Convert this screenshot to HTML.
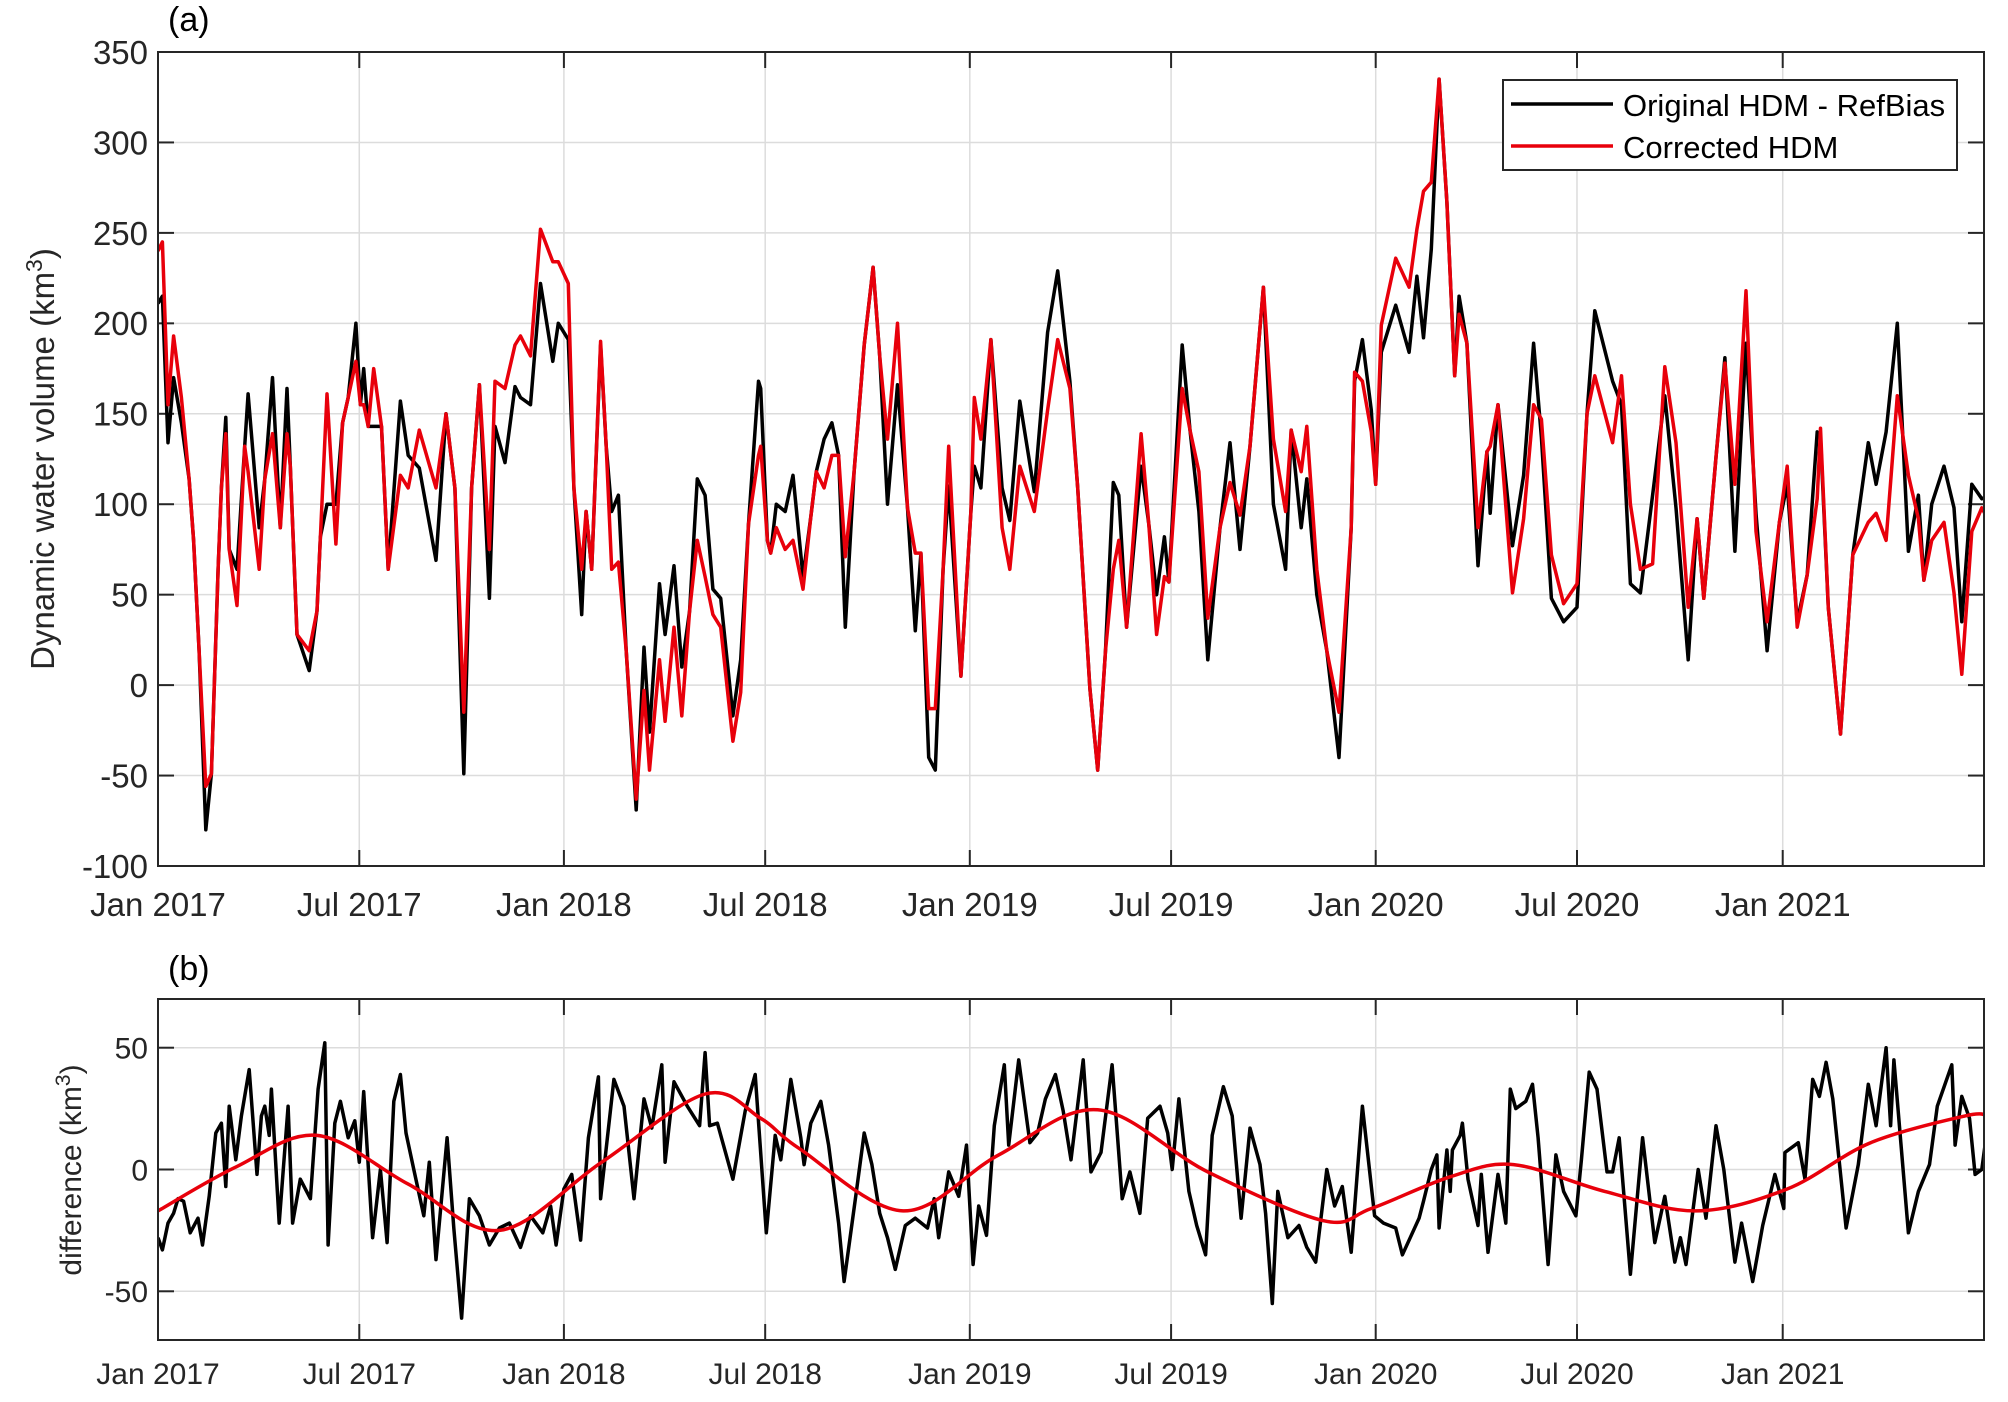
<!DOCTYPE html>
<html><head><meta charset="utf-8">
<style>
body{margin:0;background:#fff;}
svg{display:block;font-family:"Liberation Sans",Arial,sans-serif;}
</style></head>
<body>
<svg id="fig" width="2008" height="1402" viewBox="0 0 2008 1402">
<defs>
<clipPath id="clipA"><rect x="158" y="52" width="1826" height="814"/></clipPath>
<clipPath id="clipB"><rect x="158" y="999" width="1826" height="341"/></clipPath>
</defs>
<g id="panelA"></g>
<g id="panelB"></g>
</svg>
<script>
// ---- Panel (a) data ----
const daysA = [0,4,9,14,21,28,32,37,43,48,54,57,61,64,71,78,81,91,96,103,110,116,119,125,136,143,146,152,160,166,171,178,182,185,189,194,201,207,218,225,235,250,259,267,275,282,289,298,303,312,321,326,335,344,355,360,369,374,381,385,390,398,403,408,414,421,430,437,442,451,456,464,471,478,485,492,499,506,517,524,531,540,
542,548,551,556,564,571,580,587,592,599,606,612,618,626,635,643,649,656,665,674,681,686,693,699,706,711,722,731,734,740,749,759,766,775,788,800,809,820,827,838,845,852,859,864,871,884,891,898,905,909,921,928,936,944,955,964,973,982,994,1003,1014,1019,1028,1033,1042,1051,1062,1073,1076,1083,
1091,1095,1100,1113,1125,1132,1138,1145,1152,1159,1166,1170,1177,1187,1195,1198,1205,1218,1228,1237,1244,1253,1264,1276,1285,1292,1308,1316,1324,1333,1344,1355,1365,1376,1384,1390,1401,1409,1418,1428,1437,1447,1458,1465,1474,1483,1492,1495,1502,1513,1524,1538,1545,1554,1564,1574,1583,1588,1595,1606,1615,1622,1631,1640,1647];
const originalA = [211,215,134,170,145,114,80,19,-80,-49,64,109,148,75,64,132,161,87,114,170,87,164,121,28,8,41,82,100,100,145,159,200,155,175,143,143,143,64,157,127,120,69,150,109,-49,109,166,48,143,123,165,159,155,222,179,200,191,109,39,96,64,188,132,96,105,19,-69,21,-26,56,28,66,10,41,114,105,53,48,-17,14,89,168,
164,80,73,100,96,116,60,93,118,136,145,127,32,118,188,231,182,100,166,98,30,73,-40,-47,64,110,5,96,121,109,191,109,91,157,107,195,229,168,109,-2,-47,19,112,105,32,121,89,50,82,57,188,141,96,14,87,134,75,132,220,100,64,141,87,114,50,19,-40,87,168,191,
152,111,184,210,184,226,192,241,335,267,171,215,189,66,129,95,155,77,116,189,137,48,35,43,150,207,168,155,56,51,105,160,98,14,92,48,126,181,74,189,95,19,90,111,35,61,140,137,43,-27,72,134,111,140,200,74,105,58,100,121,98,35,111,103,105];
const correctedA = [240,245,155,193,159,114,80,19,-56,-49,64,109,139,75,44,132,118,64,114,139,87,139,121,28,19,41,82,161,78,145,159,179,155,155,143,175,143,64,116,109,141,109,150,109,-15,109,166,75,168,164,188,193,182,252,234,234,222,109,64,96,64,190,132,64,68,19,-63,-3,-47,14,-20,32,-17,41,80,60,39,32,-31,-4,89,127,
132,80,73,87,75,80,53,93,118,109,127,127,71,118,188,231,182,136,200,98,73,73,-13,-13,64,132,5,96,159,136,191,87,64,121,96,152,191,164,109,-2,-47,19,64,80,32,139,89,28,60,57,164,141,118,37,87,112,94,132,220,136,96,141,118,143,64,19,-15,87,173,168,
140,111,199,236,220,252,273,278,335,267,171,205,189,87,129,132,155,51,92,155,147,72,45,56,150,171,134,171,100,64,67,176,134,43,92,48,126,178,111,218,85,35,90,121,32,61,103,142,43,-27,72,90,95,80,160,116,92,58,80,90,51,6,85,98,90];
const yTicksA = [-100,-50,0,50,100,150,200,250,300,350];

// ---- Panel (b) data ----
const daysB = [0,4,9,14,18,23,29,36,40,46,52,57,61,64,70,75,82,89,93,96,100,102,109,117,121,128,137,144,150,153,159,164,171,177,181,185,193,200,206,212,218,223,230,239,244,250,260,266,273,280,289,298,307,316,326,335,346,353,358,365,372,380,387,396,398,410,419,428,437,444,453,456,464,476,487,492,496,503,517,528,537,
547,555,560,569,578,581,587,596,603,612,617,628,635,642,649,656,663,672,681,692,698,702,711,720,727,733,738,745,752,761,765,774,784,791,798,807,814,821,832,839,848,858,867,874,883,890,901,908,912,918,927,934,942,948,958,966,974,982,991,996,1002,1007,1016,1026,1033,1041,1051,1058,1065,1073,1083,1094,
1102,1113,1119,1127,1134,1138,1145,1150,1152,1159,1162,1164,1171,1173,1178,1187,1190,1196,1205,1212,1216,1221,1230,1236,1241,1250,1257,1264,1275,1280,1287,1294,1303,1308,1314,1324,1335,1346,1355,1364,1369,1374,1385,1392,1401,1408,1418,1424,1434,1443,1454,1462,1463,1475,1481,1488,1494,1500,1506,1518,1529,1538,1545,1554,1558,1561,1574,1583,1593,1600,1613,1616,1622,1629,1634,1640,1645];
const diffB = [-28,-33,-22,-18,-12,-13,-26,-20,-31,-11,15,19,-7,26,4,22,41,-2,22,26,14,33,-22,26,-22,-4,-12,33,52,-31,19,28,13,20,3,32,-28,0,-30,28,39,15,0,-19,3,-37,13,-24,-61,-12,-19,-31,-24,-22,-32,-19,-26,-15,-31,-8,-2,-29,13,38,-12,37,26,-12,29,17,43,3,36,26,18,48,18,19,-4,24,39,
-26,14,4,37,13,2,19,28,10,-22,-46,-9,15,2,-18,-28,-41,-23,-20,-24,-12,-28,-1,-11,10,-39,-15,-27,18,43,10,45,11,15,29,39,24,4,45,-1,7,43,-12,-1,-18,21,26,15,0,29,-9,-23,-35,14,34,22,-20,17,2,-18,-55,-9,-28,-23,-32,-38,0,-15,-7,-34,26,-19,
-22,-24,-35,-27,-20,-13,0,6,-24,8,-9,8,14,19,-4,-23,-2,-34,-2,-22,33,25,28,35,13,-39,6,-9,-19,4,40,33,-1,-1,13,-43,13,-30,-11,-38,-28,-39,0,-20,18,0,-38,-22,-46,-23,-2,-16,7,11,-4,37,30,44,29,-24,2,35,18,50,18,45,-26,-9,2,26,43,10,30,21,-2,0,17];
const fitDays = [0,70,143,225,307,399,492,542,577,670,756,845,944,1048,1091,1162,1219,1301,1383,1465,1540,1625,1646];
const fitB = [-17,1,14,-6,-25,3,31,21,8.5,-17,6,24.5,-1,-21,-16,-3,2,-9,-17,-8,11,22,22];
const yTicksB = [-50,0,50];

const xTickDays = [0,181,365,546,730,911,1095,1276,1461];
const xTickLabels = ["Jan 2017","Jul 2017","Jan 2018","Jul 2018","Jan 2019","Jul 2019","Jan 2020","Jul 2020","Jan 2021"];

const NS = "http://www.w3.org/2000/svg";
const L = 158, R = 1984, DMAX = 1642;
function xS(d){ return L + d/DMAX*(R-L); }
function mk(tag, attrs, parent){
  const e = document.createElementNS(NS, tag);
  for (const k in attrs) e.setAttribute(k, attrs[k]);
  parent.appendChild(e); return e;
}
function pathFrom(days, vals, yS){
  let s = "";
  for (let i=0;i<days.length;i++){ s += (i?"L":"M") + xS(days[i]).toFixed(1) + " " + yS(vals[i]).toFixed(1); }
  return s;
}
function smoothPath(days, vals, yS){
  const P = days.map((d,i)=>[xS(d), yS(vals[i])]);
  let s = "M"+P[0][0].toFixed(1)+" "+P[0][1].toFixed(1);
  for (let i=0;i<P.length-1;i++){
    const p0=P[Math.max(0,i-1)], p1=P[i], p2=P[i+1], p3=P[Math.min(P.length-1,i+2)];
    const c1=[p1[0]+(p2[0]-p0[0])/6, p1[1]+(p2[1]-p0[1])/6];
    const c2=[p2[0]-(p3[0]-p1[0])/6, p2[1]-(p3[1]-p1[1])/6];
    s += "C"+c1[0].toFixed(1)+" "+c1[1].toFixed(1)+" "+c2[0].toFixed(1)+" "+c2[1].toFixed(1)+" "+p2[0].toFixed(1)+" "+p2[1].toFixed(1);
  }
  return s;
}
function drawAxes(g, top, bot, yS, yTicks, tickFont, xLabelY, clipId, pname){
  const grid = mk("g", {}, g);
  
  
  xTickDays.forEach(d=>{ if(d>0) mk("line",{x1:xS(d),x2:xS(d),y1:top,y2:bot,stroke:"#dcdcdc","stroke-width":1.5},grid); });
  yTicks.forEach(v=>{ const y=yS(v); if(y>top+1&&y<bot-1) mk("line",{x1:L,x2:R,y1:y,y2:y,stroke:"#dcdcdc","stroke-width":1.5},grid); });
  const tk = mk("g",{stroke:"#262626","stroke-width":2},g);
  xTickDays.forEach(d=>{ const x=xS(d);
    mk("line",{x1:x,x2:x,y1:bot,y2:bot-16},tk); mk("line",{x1:x,x2:x,y1:top,y2:top+16},tk); });
  yTicks.forEach(v=>{ const y=yS(v);
    mk("line",{x1:L,x2:L+16,y1:y,y2:y},tk); mk("line",{x1:R,x2:R-16,y1:y,y2:y},tk); });
  xTickDays.forEach((d,i)=>{
    const t = mk("text",{x:xS(d),y:xLabelY,"text-anchor":"middle","font-size":tickFont,fill:"#262626"},g);
    t.textContent = xTickLabels[i];
    
    
  });
  yTicks.forEach(v=>{
    const t = mk("text",{x:L-10,y:yS(v)+tickFont*0.36,"text-anchor":"end","font-size":tickFont,fill:"#262626"},g);
    t.textContent = String(v);
    
    
  });
}

// ---- Panel (a) ----
(function(){
  const g = document.getElementById("panelA");
  const top=52, bot=866, vmin=-100, vmax=350;
  const yS = v => bot - (v-vmin)/(vmax-vmin)*(bot-top);
  drawAxes(g, top, bot, yS, yTicksA, 33, 916, "clipA", "panel-a");
  const lines = mk("g",{"clip-path":"url(#clipA)",fill:"none","stroke-linejoin":"round"},g);
  const pO = mk("path",{d:pathFrom(daysA, originalA, yS),stroke:"#000","stroke-width":3.5},lines);
  
  
  const pC = mk("path",{d:pathFrom(daysA, correctedA, yS),stroke:"#e8000b","stroke-width":3.5},lines);
  
  
  const box = mk("rect",{x:L,y:top,width:R-L,height:bot-top,fill:"none",stroke:"#262626","stroke-width":2},g);
  
  
})();

// ---- Panel (b) ----
(function(){
  const g = document.getElementById("panelB");
  const top=999, bot=1340, vmin=-70, vmax=70;
  const yS = v => bot - (v-vmin)/(vmax-vmin)*(bot-top);
  drawAxes(g, top, bot, yS, yTicksB, 30, 1384, "clipB", "panel-b");
  const lines = mk("g",{"clip-path":"url(#clipB)",fill:"none","stroke-linejoin":"round"},g);
  const pD = mk("path",{d:pathFrom(daysB, diffB, yS),stroke:"#000","stroke-width":3.5},lines);
  
  
  const pF = mk("path",{d:smoothPath(fitDays, fitB, yS),stroke:"#e8000b","stroke-width":3.5},lines);
  
  
  const box = mk("rect",{x:L,y:top,width:R-L,height:bot-top,fill:"none",stroke:"#262626","stroke-width":2},g);
  
  
})();
</script>
<svg width="2008" height="1402" style="position:absolute;left:0;top:0;font-family:'Liberation Sans',Arial,sans-serif">
  <text x="168" y="31" font-size="34" fill="#000">(a)</text>
  <text x="168" y="980" font-size="34" fill="#000">(b)</text>
  <text transform="translate(54,459) rotate(-90)" text-anchor="middle" font-size="33" fill="#262626">Dynamic water volume (km<tspan dy="-12" font-size="23">3</tspan><tspan dy="12">)</tspan></text>
  <text transform="translate(81,1170) rotate(-90)" text-anchor="middle" font-size="30" fill="#262626">difference (km<tspan dy="-11" font-size="21">3</tspan><tspan dy="11">)</tspan></text>
  <g>
    <rect x="1503" y="80" width="454" height="90" fill="#fff" stroke="#262626" stroke-width="2"/>
    <line x1="1511" y1="104" x2="1613" y2="104" stroke="#000" stroke-width="3.5"/>
    <text x="1623" y="116" font-size="31" fill="#000">Original HDM - RefBias</text>
    <line x1="1511" y1="146" x2="1613" y2="146" stroke="#e8000b" stroke-width="3.5"/>
    <text x="1623" y="158" font-size="31" fill="#000">Corrected HDM</text>
  </g>
</svg>
</body></html>
